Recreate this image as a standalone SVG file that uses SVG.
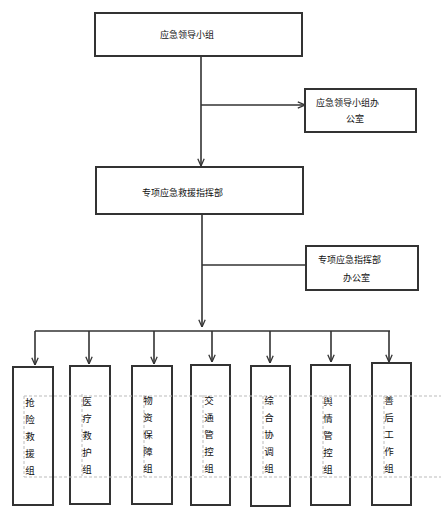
<svg xmlns="http://www.w3.org/2000/svg" width="441" height="517" viewBox="0 0 441 517">
<style>
.box{fill:#fff;stroke:#333;stroke-width:2}
.ln{fill:none;stroke:#333;stroke-width:1.6}
.dash{fill:none;stroke:#bbb;stroke-width:1;stroke-dasharray:3 2}
.t{font-family:"Noto Sans CJK SC","Noto Sans",sans-serif;font-size:9px;fill:#111}
.v{font-family:"Noto Sans CJK SC","Noto Sans",sans-serif;font-size:9.5px;fill:#111;text-anchor:middle}
</style>
<defs>
<marker id="arr" viewBox="0 0 10 10" refX="10" refY="5" markerWidth="8" markerHeight="8" markerUnits="userSpaceOnUse" orient="auto">
<path d="M1,1 L10,5 L1,9" fill="none" stroke="#333" stroke-width="1.6"/>
</marker>
</defs>
<rect width="441" height="517" fill="#fff"/>
<g id="connectors">
<path class="ln" d="M201,56 V166" marker-end="url(#arr)"/>
<path class="ln" d="M201,105 H305" marker-end="url(#arr)"/>
<path class="ln" d="M202,214 V327" marker-end="url(#arr)"/>
<path class="ln" d="M202,265 H306"/>
<path class="ln" d="M35,331 H390"/>
<path class="ln" d="M35,331 V365" marker-end="url(#arr)"/>
<path class="ln" d="M89,331 V364" marker-end="url(#arr)"/>
<path class="ln" d="M154,331 V364" marker-end="url(#arr)"/>
<path class="ln" d="M212,331 V362" marker-end="url(#arr)"/>
<path class="ln" d="M270,331 V363" marker-end="url(#arr)"/>
<path class="ln" d="M331,331 V362" marker-end="url(#arr)"/>
<path class="ln" d="M389,331 V362" marker-end="url(#arr)"/>
</g>
<g id="leader"><rect class="box" x="95" y="13" width="207" height="43"/><text class="t" x="160" y="38">应急领导小组</text></g>
<g id="leader-office"><rect class="box" x="305" y="89" width="111" height="43"/><text class="t" x="316" y="106">应急领导小组办</text><text class="t" x="346" y="122">公室</text></g>
<g id="command"><rect class="box" x="96" y="167" width="207" height="47"/><text class="t" x="142" y="196">专项应急救援指挥部</text></g>
<g id="command-office"><rect class="box" x="306" y="246" width="112" height="44"/><text class="t" x="318" y="263">专项应急指挥部</text><text class="t" x="343" y="281">办公室</text></g>
<g id="g1"><rect class="box" x="13" y="367" width="40" height="138"/></g>
<g id="g2"><rect class="box" x="70" y="366" width="40" height="138"/></g>
<g id="g3"><rect class="box" x="132" y="366" width="40" height="138"/></g>
<g id="g4"><rect class="box" x="191" y="365" width="39" height="140"/></g>
<g id="g5"><rect class="box" x="251" y="366" width="39" height="140"/></g>
<g id="g6"><rect class="box" x="311" y="365" width="39" height="140"/></g>
<g id="g7"><rect class="box" x="372" y="363" width="39" height="142"/></g>
<g id="textframes">
<path class="dash" d="M24,396 H441 M24,477 H441 M24,396 V477 M82,394 V476 M144,395 V477 M203,395 V476 M263,396 V476 M323,396 V477 M384,396 V476"/>
</g>
<g id="labels">
<text class="v" x="30"><tspan x="30" y="406">抢</tspan><tspan x="30" y="423">险</tspan><tspan x="30" y="440">救</tspan><tspan x="30" y="457">援</tspan><tspan x="30" y="474">组</tspan></text>
<text class="v"><tspan x="87" y="405">医</tspan><tspan x="87" y="422">疗</tspan><tspan x="87" y="439">救</tspan><tspan x="87" y="456">护</tspan><tspan x="87" y="473">组</tspan></text>
<text class="v"><tspan x="148" y="404">物</tspan><tspan x="148" y="421">资</tspan><tspan x="148" y="438">保</tspan><tspan x="148" y="455">障</tspan><tspan x="148" y="472">组</tspan></text>
<text class="v"><tspan x="209" y="404">交</tspan><tspan x="209" y="421">通</tspan><tspan x="209" y="438">管</tspan><tspan x="209" y="455">控</tspan><tspan x="209" y="472">组</tspan></text>
<text class="v"><tspan x="269" y="404">综</tspan><tspan x="269" y="421">合</tspan><tspan x="269" y="438">协</tspan><tspan x="269" y="455">调</tspan><tspan x="269" y="472">组</tspan></text>
<text class="v"><tspan x="328" y="405">舆</tspan><tspan x="328" y="422">情</tspan><tspan x="328" y="439">管</tspan><tspan x="328" y="456">控</tspan><tspan x="328" y="473">组</tspan></text>
<text class="v"><tspan x="389" y="404">善</tspan><tspan x="389" y="421">后</tspan><tspan x="389" y="438">工</tspan><tspan x="389" y="455">作</tspan><tspan x="389" y="472">组</tspan></text>
</g>
</svg>
